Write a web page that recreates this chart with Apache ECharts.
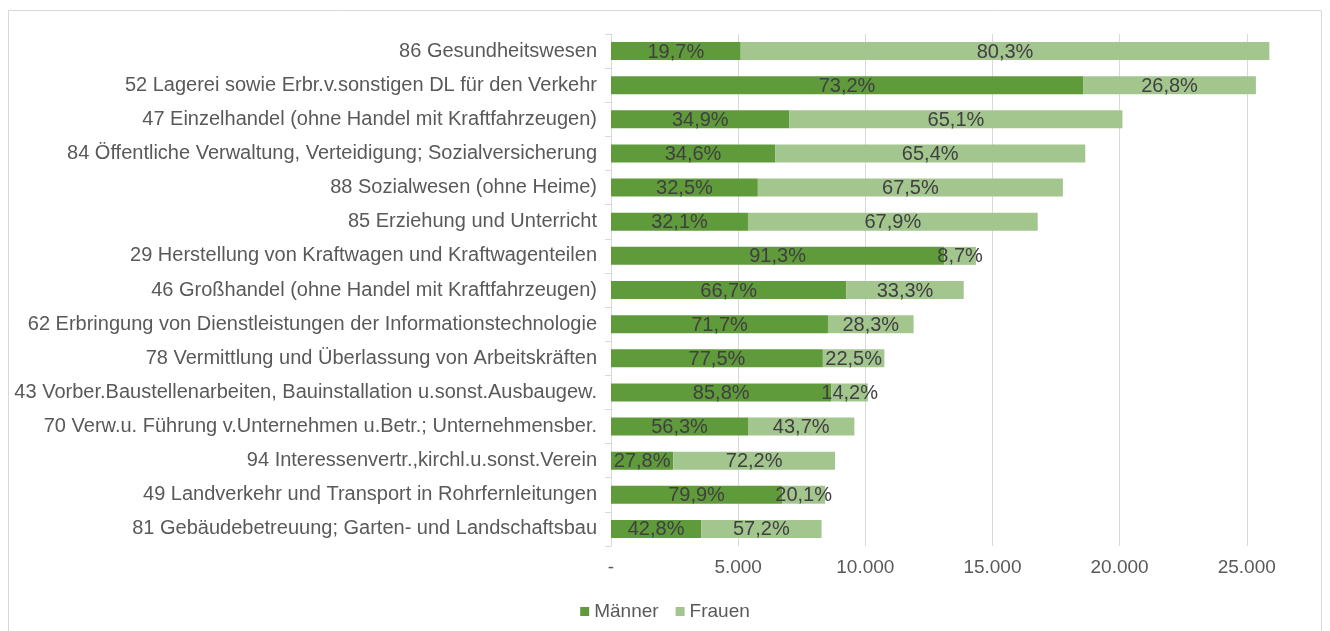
<!DOCTYPE html>
<html>
<head>
<meta charset="utf-8">
<script src="https://cdn.jsdelivr.net/npm/echarts@6/dist/echarts.min.js"></script>
<style>
  html, body { margin: 0; padding: 0; background: #fff; }
  #chart { width: 1330px; height: 631px; }
</style>
</head>
<body>
<div id="chart"></div>
<script>
// Branchen (von oben nach unten)
const categories = [
  '86 Gesundheitswesen',
  '52 Lagerei sowie Erbr.v.sonstigen DL für den Verkehr',
  '47 Einzelhandel (ohne Handel mit Kraftfahrzeugen)',
  '84 Öffentliche Verwaltung, Verteidigung; Sozialversicherung',
  '88 Sozialwesen (ohne Heime)',
  '85 Erziehung und Unterricht',
  '29 Herstellung von Kraftwagen und Kraftwagenteilen',
  '46 Großhandel (ohne Handel mit Kraftfahrzeugen)',
  '62 Erbringung von Dienstleistungen der Informationstechnologie',
  '78 Vermittlung und Überlassung von Arbeitskräften',
  '43 Vorber.Baustellenarbeiten, Bauinstallation u.sonst.Ausbaugew.',
  '70 Verw.u. Führung v.Unternehmen u.Betr.; Unternehmensber.',
  '94 Interessenvertr.,kirchl.u.sonst.Verein',
  '49 Landverkehr und Transport in Rohrfernleitungen',
  '81 Gebäudebetreuung; Garten- und Landschaftsbau'
]
// Beschäftigte gesamt (geschätzt aus der Grafik)
const totals = [25890, 25360, 20110, 18650, 17770, 16780, 14350, 13870, 11900, 10750, 10100, 9570, 8810, 8420, 8280]
// Anteile in Prozent
const menPct   = [19.7, 73.2, 34.9, 34.6, 32.5, 32.1, 91.3, 66.7, 71.7, 77.5, 85.8, 56.3, 27.8, 79.9, 42.8]
const womenPct = [80.3, 26.8, 65.1, 65.4, 67.5, 67.9, 8.7, 33.3, 28.3, 22.5, 14.2, 43.7, 72.2, 20.1, 57.2]
const xTicks = [0, 5000, 10000, 15000, 20000, 25000]

const men = totals.map((t, i) => Math.round(t * menPct[i] / 100))
const women = totals.map((t, i) => t - men[i])

const fontFamily = '"Liberation Sans", Arial, sans-serif'
const fs = 20

function fmtNum(v) {
  if (v === 0) return '-'
  return String(v).replace(/\B(?=(\d{3})+(?!\d))/g, '.')
}
function fmtPct(p) {
  return p.toFixed(1).replace('.', ',') + '%'
}

const chart = echarts.init(document.getElementById('chart'))
chart.setOption({
  animation: false,
  textStyle: { fontFamily: fontFamily },
  graphic: [{
    type: 'rect',
    shape: { x: 8.5, y: 10.5, width: 1313, height: 640 },
    style: { fill: 'none', stroke: '#d9d9d9', lineWidth: 1 },
    silent: true
  }],
  grid: {
    left: 611,
    top: 34,
    width: 26500 * 0.02543,
    height: 512
  },
  legend: {
    bottom: 5,
    left: 'center',
    itemWidth: 9,
    itemHeight: 9,
    itemGap: 17,
    icon: 'rect',
    textStyle: { fontSize: fs - 1, color: '#595959', fontFamily: fontFamily },
    data: ['Männer', 'Frauen']
  },
  xAxis: {
    type: 'value',
    min: 0,
    max: 26500,
    interval: 5000,
    axisLine: { show: false },
    axisTick: { show: false },
    axisLabel: {
      fontSize: fs - 1,
      color: '#595959',
      margin: 12,
      showMaxLabel: false,
      formatter: v => xTicks.includes(v) ? fmtNum(v) : ''
    },
    splitLine: { show: true, showMaxLine: false, lineStyle: { color: '#d9d9d9', width: 1 } }
  },
  yAxis: {
    type: 'category',
    inverse: true,
    data: categories,
    axisLine: { show: true, lineStyle: { color: '#d9d9d9' } },
    axisTick: { show: true, length: 6, lineStyle: { color: '#d9d9d9' } },
    axisLabel: { fontSize: fs, color: '#595959', margin: 14 }
  },
  series: [
    {
      name: 'Männer',
      type: 'bar',
      stack: 'total',
      barWidth: 18,
      data: men,
      itemStyle: { color: '#5f9a3b' },
      label: {
        show: true,
        position: 'inside',
        offset: [0, 1],
        fontSize: fs,
        color: '#404040',
        formatter: p => fmtPct(menPct[p.dataIndex])
      }
    },
    {
      name: 'Frauen',
      type: 'bar',
      stack: 'total',
      barWidth: 18,
      data: women,
      itemStyle: { color: '#a3c68f' },
      label: {
        show: true,
        position: 'inside',
        offset: [0, 1],
        fontSize: fs,
        color: '#404040',
        formatter: p => fmtPct(womenPct[p.dataIndex])
      }
    }
  ]
})
</script>
</body>
</html>
